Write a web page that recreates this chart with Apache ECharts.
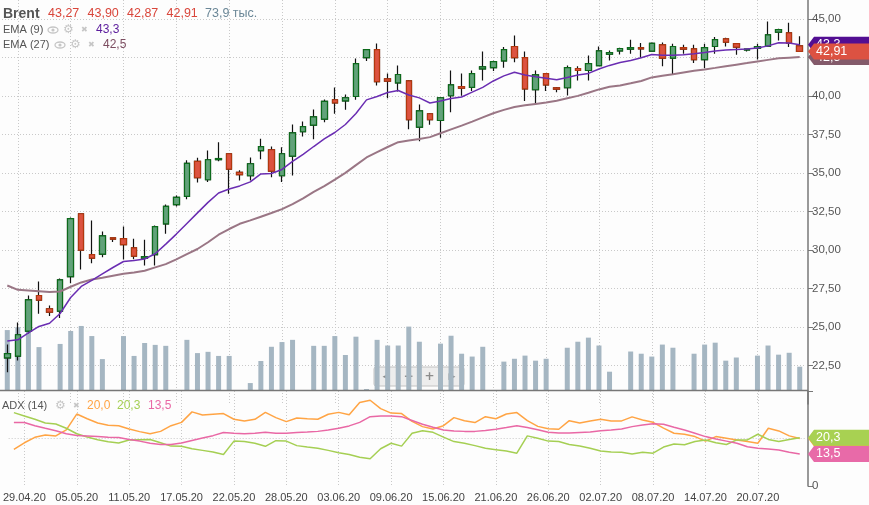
<!DOCTYPE html>
<html>
<head>
<meta charset="utf-8">
<title>Brent</title>
<script src="https://cdn.jsdelivr.net/npm/echarts@6.0.0/dist/echarts.min.js"></script>
<style>
  html, body { margin: 0; padding: 0; background: #fdfdfd; }
  #chart { width: 869px; height: 505px; }
</style>
</head>
<body>
<div id="chart"></div>
<script>
// daily candles, Sun-Fri sessions
var dates = ['28.04.20','29.04.20','30.04.20','01.05.20','03.05.20','04.05.20','05.05.20','06.05.20','07.05.20','08.05.20',
  '10.05.20','11.05.20','12.05.20','13.05.20','14.05.20','15.05.20','17.05.20','18.05.20','19.05.20','20.05.20',
  '21.05.20','22.05.20','24.05.20','25.05.20','26.05.20','27.05.20','28.05.20','29.05.20','31.05.20','01.06.20',
  '02.06.20','03.06.20','04.06.20','05.06.20','07.06.20','08.06.20','09.06.20','10.06.20','11.06.20','12.06.20',
  '14.06.20','15.06.20','16.06.20','17.06.20','18.06.20','19.06.20','21.06.20','22.06.20','23.06.20','24.06.20',
  '25.06.20','26.06.20','28.06.20','29.06.20','30.06.20','01.07.20','02.07.20','03.07.20','05.07.20','06.07.20',
  '07.07.20','08.07.20','09.07.20','10.07.20','12.07.20','13.07.20','14.07.20','15.07.20','16.07.20','17.07.20',
  '19.07.20','20.07.20','21.07.20','22.07.20','23.07.20','24.07.20'];

var opens = [23.00,23.11,24.73,27.05,26.19,26.03,28.27,32.36,29.70,29.74,
  30.80,30.74,30.15,29.48,29.70,31.71,32.95,33.49,35.76,34.57,
  35.88,36.26,35.05,34.83,36.46,36.52,34.83,36.10,37.69,38.12,
  38.51,39.77,39.70,39.98,42.50,43.02,41.13,40.87,41.00,37.99,
  38.86,38.42,40.03,40.63,40.57,41.78,41.85,42.30,43.23,42.50,
  40.42,41.46,40.55,40.55,41.80,41.67,41.98,42.73,42.95,43.06,
  43.15,42.93,43.34,42.47,43.15,43.08,42.37,43.23,43.73,43.41,
  43.00,43.10,43.25,44.16,44.12,43.27];
var highs = [23.87,25.30,27.05,27.96,26.40,28.16,32.12,32.40,31.93,31.21,
  30.82,31.54,30.74,30.67,31.60,32.97,33.55,35.83,36.00,36.47,
  37.00,36.30,35.18,36.02,37.24,36.73,36.69,38.16,38.36,39.14,
  39.79,40.57,40.11,42.45,43.05,43.43,41.48,42.00,41.05,39.46,
  38.90,39.95,41.67,41.48,41.67,42.91,42.30,43.19,43.95,42.91,
  41.67,41.50,40.60,42.00,41.95,42.65,43.23,42.97,43.15,43.67,
  43.45,43.49,43.49,43.41,43.34,43.34,43.41,43.84,43.80,43.45,
  43.10,43.41,44.86,44.38,44.77,43.90];
var lows = [22.07,22.83,24.58,25.86,25.71,25.58,27.85,28.74,29.15,29.54,
  30.52,29.39,29.41,29.00,29.00,31.06,32.84,33.30,34.40,34.42,
  35.78,33.66,34.53,34.53,35.91,34.74,34.42,34.85,37.38,37.21,
  38.31,38.86,39.12,39.77,42.28,40.70,39.87,40.31,37.86,37.08,
  38.14,37.30,38.96,40.03,40.33,41.02,41.63,41.85,42.21,39.68,
  39.51,40.33,40.26,40.05,41.02,41.02,41.95,42.32,42.71,42.76,
  42.50,42.91,41.95,41.41,42.76,42.15,41.82,42.76,43.23,42.69,
  42.90,42.39,43.20,43.62,43.19,42.87];
var closes = [23.27,24.50,26.77,26.75,25.97,28.07,32.04,30.00,29.48,30.93,
  30.71,30.35,29.61,29.57,31.52,32.84,33.42,35.63,34.70,35.87,
  35.95,35.26,34.90,35.61,36.72,35.13,36.26,37.62,38.02,38.66,
  39.66,39.57,39.90,42.11,43.02,40.94,40.98,41.41,38.47,39.05,
  38.47,39.90,40.74,40.52,41.46,41.91,42.24,43.02,42.50,40.48,
  41.39,40.74,40.46,41.85,41.67,42.11,42.95,42.84,43.10,43.15,
  43.08,43.43,42.47,43.23,43.06,42.37,43.15,43.67,43.51,43.19,
  43.06,43.23,43.99,44.32,43.45,42.91];

// volume, thousands of lots
var volumes = [190,199,188,136,0,146,187,203,171,98,
  0,171,108,149,143,140,0,159,117,121,
  108,108,0,22,92,137,152,159,0,140,
  140,171,111,169,3,159,141,141,201,153,
  0,147,172,115,106,137,0,90,99,109,
  93,99,0,134,153,166,141,58,0,122,
  115,106,144,134,0,115,144,150,93,103,
  0,109,141,112,118,73.9];

var ema9 = [24.10,24.17,24.62,25.04,25.25,25.88,26.92,27.64,28.03,28.45,
  28.87,29.26,29.33,29.42,29.76,30.39,31.04,31.73,32.42,33.10,
  33.71,33.97,34.17,34.43,34.95,34.98,35.24,35.76,36.22,36.73,
  37.22,37.64,38.16,38.88,39.76,39.98,40.24,40.37,40.08,39.89,
  39.56,39.69,39.85,39.95,40.26,40.57,40.99,41.32,41.56,41.38,
  41.27,41.17,41.07,41.22,41.38,41.48,41.77,42.00,42.19,42.32,
  42.50,42.71,42.66,42.66,42.69,42.76,42.84,42.93,43.00,43.04,
  43.06,43.13,43.27,43.47,43.45,43.34];
var ema27 = [27.70,27.42,27.38,27.33,27.27,27.31,27.62,27.90,28.09,28.21,
  28.34,28.46,28.55,28.66,28.88,29.09,29.40,29.74,30.07,30.51,
  31.00,31.37,31.71,31.93,32.17,32.41,32.66,32.99,33.36,33.78,
  34.16,34.58,35.02,35.52,36.02,36.36,36.70,37.01,37.12,37.22,
  37.34,37.59,37.84,38.09,38.35,38.62,38.89,39.11,39.30,39.41,
  39.50,39.59,39.71,39.87,40.02,40.22,40.44,40.61,40.70,40.84,
  40.99,41.22,41.33,41.43,41.54,41.65,41.74,41.84,41.95,42.05,
  42.15,42.26,42.36,42.46,42.50,42.54];

// ADX (14) block
var adx = [15.4,18.2,20.5,21.5,21.1,23.6,30.3,28.3,26.5,25.6,
  25.4,24.0,22.9,22.0,23.0,25.4,26.8,31.2,29.9,30.2,
  30.5,28.1,27.4,28.1,31.0,28.8,27.1,28.6,28.3,28.1,
  30.2,31.0,30.0,35.2,36.1,32.6,30.7,30.5,27.2,25.0,
  24.0,25.4,28.8,27.5,26.7,29.2,28.3,30.3,30.9,27.5,
  25.1,24.1,23.9,27.5,26.5,27.4,28.1,27.4,27.4,29.1,
  27.8,26.8,24.4,22.2,21.8,20.8,18.9,20.8,20.1,19.4,
  18.7,18.0,24.3,23.2,21.1,20.0];
var plusDI = [30.9,29.5,28.1,26.5,26.1,24.3,22.0,20.6,19.5,18.6,
  18.1,19.4,19.5,19.6,18.2,16.8,16.7,15.7,15.0,14.3,
  13.3,18.9,18.7,18.0,16.7,19.1,18.9,17.0,16.4,15.9,
  15.0,14.0,13.3,12.1,11.5,15.7,18.0,16.8,22.2,23.3,
  22.6,20.6,18.7,18.0,17.0,15.9,15.3,14.7,13.8,21.1,
  20.1,18.9,18.7,17.5,16.8,15.9,14.7,14.3,14.2,13.5,
  14.2,13.8,16.4,17.7,17.4,18.7,19.4,18.2,17.5,19.4,
  19.4,21.8,19.6,18.7,19.6,20.3];
var minusDI = [26.7,26.7,25.4,24.3,23.3,22.0,21.3,21.1,20.8,20.5,
  20.4,19.6,18.9,18.0,17.5,17.5,18.1,19.2,20.2,21.2,
  22.5,22.2,22.0,22.2,22.6,22.2,22.2,22.5,22.7,23.0,
  23.6,24.3,25.3,26.8,29.2,29.5,29.5,29.2,27.6,26.0,
  24.7,23.6,23.2,23.0,23.0,23.4,23.9,24.6,25.4,24.6,
  23.7,22.6,22.3,22.3,22.5,22.7,23.3,23.6,24.0,25.0,
  25.7,26.2,26.0,24.7,23.6,22.2,20.8,19.8,18.9,18.0,
  16.5,15.9,15.6,15.2,14.2,13.5];

var font = 'Arial, "Liberation Sans", sans-serif';
var last = dates.length - 1;
var upFill = '#62a27a', upLine = '#0c6a1b', downFill = '#dc5340', downLine = '#b2380f';
var cEma9 = '#6a2db2', cEma27 = '#9a7685';
var cAdx = '#ffa444', cPlus = '#a5cf53', cMinus = '#e968a5';

function fmt(v, d) { return v.toFixed(d).replace('.', ','); }
var every5 = function (idx) { return idx % 5 === 1; };
var dotted = { color: '#c9c9c9', width: 1, type: [1, 2] };

var wickData = dates.map(function (d, i) { return [opens[i], closes[i], lows[i], highs[i]]; });
var bodyData = dates.map(function (d, i) {
  return [opens[i], closes[i], Math.min(opens[i], closes[i]), Math.max(opens[i], closes[i])];
});

function xAx(grid, labels, lines) {
  return {
    type: 'category', gridIndex: grid, data: dates, boundaryGap: true,
    axisLine: { show: false }, axisTick: { show: false },
    axisLabel: { show: labels, interval: every5, color: '#444', fontSize: 11, fontFamily: font, margin: 6 },
    splitLine: { show: lines, interval: every5, alignWithLabel: true, lineStyle: dotted }
  };
}

var chart = echarts.init(document.getElementById('chart'));
chart.setOption({
  animation: false,
  backgroundColor: '#fdfdfd',
  grid: [
    { left: 2, right: 64, top: 0, bottom: 101 },
    { left: 2, right: 64, top: 290, bottom: 115 },
    { left: 2, right: 64, top: 391, bottom: 19 }
  ],
  xAxis: [xAx(0, false, true), xAx(1, false, false), xAx(2, true, true)],
  yAxis: [
    {
      type: 'value', gridIndex: 0, position: 'right', offset: 3,
      min: 20, max: 46.25, interval: 2.5,
      axisLine: { show: true, lineStyle: { color: '#777', width: 1.5 } },
      axisTick: { show: true, length: 5, lineStyle: { color: '#777' } },
      axisLabel: { color: '#555', fontSize: 11.5, fontFamily: font, margin: 4,
        showMinLabel: false, showMaxLabel: false,
        formatter: function (v) { return fmt(v, 2); } },
      splitLine: { show: true, showMinLine: false, showMaxLine: false, lineStyle: dotted }
    },
    { type: 'value', gridIndex: 1, min: 0, max: 317, show: false },
    {
      type: 'value', gridIndex: 2, position: 'right', offset: 3,
      min: 0, max: 40, interval: 20,
      axisLine: { show: true, lineStyle: { color: '#777', width: 1.5 } },
      axisTick: { show: true, length: 5, lineStyle: { color: '#777' } },
      axisLabel: { color: '#555', fontSize: 11.5, fontFamily: font, margin: 4,
        formatter: function (v) { return v === 0 ? '0' : ''; } },
      splitLine: { show: true, showMinLine: false, showMaxLine: false, lineStyle: dotted }
    }
  ],
  series: [
    { name: 'Объём', type: 'bar', xAxisIndex: 1, yAxisIndex: 1, data: volumes,
      barWidth: 5, itemStyle: { color: '#a5b6c2' }, z: 1, silent: true },
    { name: 'wick', type: 'candlestick', xAxisIndex: 0, yAxisIndex: 0, data: wickData, barWidth: 6, z: 3,
      itemStyle: { color: 'transparent', color0: 'transparent', borderColor: '#111', borderColor0: '#111', borderWidth: 1.2 },
      silent: true },
    { name: 'Brent', type: 'candlestick', xAxisIndex: 0, yAxisIndex: 0, data: bodyData, barWidth: 6, z: 4,
      itemStyle: { color: upFill, color0: downFill, borderColor: upLine, borderColor0: downLine, borderWidth: 1.2 },
      silent: true },
    { name: 'EMA (27)', type: 'line', xAxisIndex: 0, yAxisIndex: 0, data: ema27, symbol: 'none', z: 5,
      lineStyle: { color: cEma27, width: 2 }, silent: true },
    { name: 'EMA (9)', type: 'line', xAxisIndex: 0, yAxisIndex: 0, data: ema9, symbol: 'none', z: 5,
      lineStyle: { color: cEma9, width: 1.5 }, silent: true },
    { name: 'ADX', type: 'line', xAxisIndex: 2, yAxisIndex: 2, data: adx, symbol: 'none',
      lineStyle: { color: cAdx, width: 1.5 }, silent: true },
    { name: '+DI', type: 'line', xAxisIndex: 2, yAxisIndex: 2, data: plusDI, symbol: 'none',
      lineStyle: { color: cPlus, width: 1.5 }, silent: true },
    { name: '-DI', type: 'line', xAxisIndex: 2, yAxisIndex: 2, data: minusDI, symbol: 'none',
      lineStyle: { color: cMinus, width: 1.5 }, silent: true }
  ]
});

// overlay: legends, price tags, navigation buttons
function txt(x, y, s, color, size, weight, family) {
  return { type: 'text', x: x, y: y, silent: true, z: 50,
    style: { text: s, fill: color, font: (weight || 'normal') + ' ' + size + 'px ' + (family || font), verticalAlign: 'middle' } };
}
function icons(x, y) {
  return [
    { type: 'ellipse', shape: { cx: x + 5, cy: y, rx: 5, ry: 3 }, style: { fill: 'none', stroke: '#c6c6c6', lineWidth: 1.3 }, z: 50, silent: true },
    { type: 'circle', shape: { cx: x + 5, cy: y, r: 1.6 }, style: { fill: '#c6c6c6' }, z: 50, silent: true },
    txt(x + 15, y, '\u2699', '#c6c6c6', 12, 'normal', '"DejaVu Sans"'),
    txt(x + 33, y, '\u2716', '#c6c6c6', 8, 'normal', '"DejaVu Sans"')
  ];
}
var tagZ = 60;
function tag(axis, v, text, fill) {
  var yc = chart.convertToPixel({ yAxisIndex: axis }, v);
  var x0 = 808, x1 = 869, h = 16;
  tagZ += 2;
  return [
    { type: 'polygon', silent: true, z: tagZ,
      shape: { points: [[x0, yc], [x0 + 6, yc - h / 2], [x1, yc - h / 2], [x1, yc + h / 2], [x0 + 6, yc + h / 2]] },
      style: { fill: fill } },
    { type: 'text', x: x0 + 8, y: yc, silent: true, z: tagZ + 1,
      style: { text: text, fill: '#fff', font: '12.5px ' + font, verticalAlign: 'middle' } }
  ];
}

var g = [];
g.push({ type: 'line', shape: { x1: 0, y1: 390.5, x2: 808, y2: 390.5 }, style: { stroke: '#777', lineWidth: 1.5 }, z: 40, silent: true });

g.push(txt(3, 14, 'Brent', '#555', 14, 'bold'));
[opens[last], highs[last], lows[last], closes[last]].forEach(function (v, k) {
  g.push(txt(48 + k * 39.5, 14, fmt(v, 2), '#d9463b', 12.5));
});
g.push(txt(205, 14, fmt(volumes[last], 1) + ' тыс.', '#6b8797', 12.5));

g.push(txt(3, 30, 'EMA (9)', '#555', 11));
g = g.concat(icons(48, 30));
g.push(txt(96, 30, fmt(ema9[last], 1), '#5b1c9c', 12));
g.push(txt(3, 45, 'EMA (27)', '#555', 11));
g = g.concat(icons(55, 45));
g.push(txt(103, 45, fmt(ema27[last], 1), '#7c4d60', 12));

g.push(txt(2, 406, 'ADX (14)', '#555', 11));
g.push(txt(55, 406, '\u2699', '#c6c6c6', 12, 'normal', '"DejaVu Sans"'));
g.push(txt(73, 406, '\u2716', '#c6c6c6', 8, 'normal', '"DejaVu Sans"'));
g.push(txt(87, 406, fmt(adx[last], 1), cAdx, 12));
g.push(txt(117, 406, fmt(plusDI[last], 1), cPlus, 12));
g.push(txt(148, 406, fmt(minusDI[last], 1), cMinus, 12));

g = g.concat(tag(0, ema9[last], fmt(ema9[last], 1), '#520e92'));
g = g.concat(tag(0, ema27[last], fmt(ema27[last], 1), '#835a6a'));
g = g.concat(tag(0, closes[last], fmt(closes[last], 2), '#dc5242'));
g = g.concat(tag(2, adx[last], fmt(adx[last], 1), '#ffa444'));
g = g.concat(tag(2, plusDI[last], fmt(plusDI[last], 1), '#a8d152'));
g = g.concat(tag(2, minusDI[last], fmt(minusDI[last], 1), '#e86aa8'));

// zoom / scroll buttons
var nav = { type: 'group', x: 374, y: 367, z: 80, silent: true, children: [
  { type: 'rect', shape: { x: 0, y: 0, width: 90, height: 19, r: 2 }, style: { fill: 'rgba(232,232,232,0.8)', stroke: '#c2c2c2', lineWidth: 1 } },
  { type: 'line', shape: { x1: 24, y1: 0, x2: 24, y2: 19 }, style: { stroke: '#c2c2c2' } },
  { type: 'line', shape: { x1: 45, y1: 0, x2: 45, y2: 19 }, style: { stroke: '#c2c2c2' } },
  { type: 'line', shape: { x1: 66, y1: 0, x2: 66, y2: 19 }, style: { stroke: '#c2c2c2' } },
  { type: 'text', x: 12, y: 10, style: { text: '\u25C0', fill: '#8c8c8c', font: '9px "DejaVu Sans"', align: 'center', verticalAlign: 'middle' } },
  { type: 'text', x: 34.5, y: 10, style: { text: '\u2212', fill: '#8c8c8c', font: 'bold 12px "DejaVu Sans"', align: 'center', verticalAlign: 'middle' } },
  { type: 'text', x: 55.5, y: 10, style: { text: '+', fill: '#8c8c8c', font: 'bold 12px "DejaVu Sans"', align: 'center', verticalAlign: 'middle' } },
  { type: 'text', x: 78, y: 10, style: { text: '\u25B6', fill: '#8c8c8c', font: '9px "DejaVu Sans"', align: 'center', verticalAlign: 'middle' } }
] };
g.push(nav);

chart.setOption({ graphic: g });
</script>
</body>
</html>
